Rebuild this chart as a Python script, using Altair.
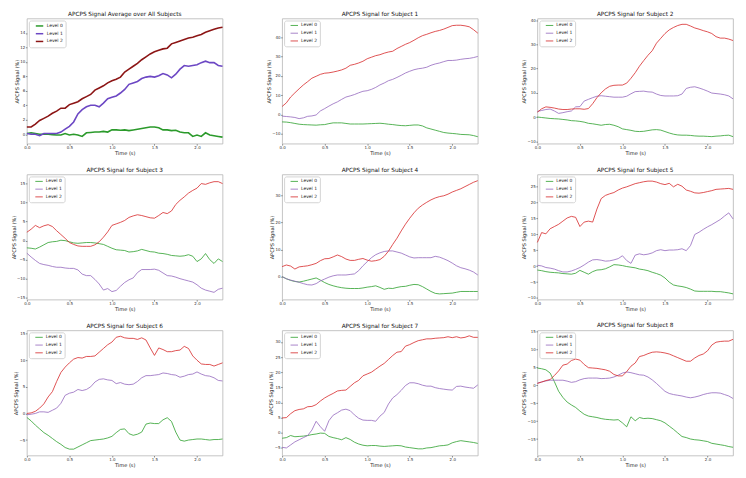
import altair as alt
import pandas as pd

# ---------------- data (0.05 s steps) ----------------
times = [round(0.05 * i, 2) for i in range(47)]
levels = ["Level 0", "Level 1", "Level 2"]
titles = ["APCPS Signal Average over All Subjects"] + [f"APCPS Signal for Subject {i}" for i in range(1, 9)]

avg_l0 = [0.1, 0.2, 0.1, 0.0, 0.0, 0.0, -0.05, -0.1, -0.1, 0.1,
          -0.1, 0.0, -0.1, -0.3, 0.2, 0.25, 0.3, 0.3, 0.4, 0.3,
          0.6, 0.6, 0.55, 0.6, 0.5, 0.6, 0.7, 0.8, 0.9, 1.0,
          1.0, 0.9, 0.6, 0.6, 0.5, 0.55, 0.3, 0.2, 0.2, -0.3,
          -0.1, -0.3, 0.2, -0.1, -0.2, -0.3, -0.4]
avg_l1 = [0.1, 0.0, 0.0, -0.2, 0.1, 0.1, 0.1, 0.1, 0.3, 0.7,
          1.1, 1.7, 2.8, 3.4, 3.8, 4.0, 4.0, 3.8, 4.3, 4.9,
          5.1, 5.3, 5.7, 6.2, 6.9, 7.1, 7.3, 7.7, 7.9, 8.0,
          7.9, 8.1, 8.4, 8.2, 7.8, 8.3, 9.0, 9.5, 9.4, 9.5,
          9.6, 9.9, 10.1, 9.9, 9.9, 9.5, 9.4]
avg_l2 = [1.0, 1.0, 1.4, 1.9, 2.2, 2.5, 2.9, 3.2, 3.6, 3.6,
          4.1, 4.3, 4.5, 4.9, 5.2, 5.5, 6.1, 6.4, 6.7, 7.1,
          7.4, 7.6, 7.9, 8.6, 9.0, 9.4, 9.8, 10.3, 10.7, 11.1,
          11.4, 11.6, 11.8, 11.9, 12.5, 12.7, 12.9, 13.1, 13.3, 13.4,
          13.6, 13.8, 14.1, 14.3, 14.5, 14.7, 14.8]

s1_l0 = [-3.9, -4.0, -4.3, -4.7, -5.1, -5.3, -5.4, -5.5, -5.6, -5.4,
         -5.3, -4.8, -4.4, -4.4, -4.4, -4.7, -5.0, -5.0, -5.0, -5.0,
         -4.9, -4.8, -4.7, -4.6, -4.8, -5.1, -5.3, -5.6, -5.8, -5.9,
         -5.7, -5.5, -5.5, -6.0, -7.0, -7.6, -8.2, -8.8, -9.4, -9.7,
         -9.9, -10.1, -10.4, -10.5, -10.6, -11.0, -11.6]
s1_l1 = [-0.9, -1.1, -1.3, -1.6, -2.2, -1.8, -1.0, -0.8, -0.3, 1.8,
         3.0, 4.3, 5.5, 6.5, 7.8, 9.0, 9.6, 10.3, 11.2, 12.0,
         12.3, 13.0, 14.0, 15.3, 16.3, 17.5, 18.2, 19.2, 20.3, 21.5,
         22.4, 23.2, 23.7, 24.0, 24.5, 25.5, 26.2, 26.7, 27.4, 28.0,
         28.0, 28.2, 28.6, 28.9, 29.1, 29.5, 30.1]
s1_l2 = [4.1, 6.0, 9.0, 11.2, 13.3, 15.3, 17.0, 18.8, 19.8, 20.8,
         21.4, 21.6, 22.0, 22.5, 23.1, 24.0, 25.5, 26.0, 26.7, 27.6,
         28.9, 29.7, 30.5, 31.0, 31.8, 32.4, 32.8, 34.2, 35.3, 36.4,
         37.3, 38.5, 39.8, 40.9, 41.6, 42.4, 43.1, 43.6, 44.3, 45.2,
         46.1, 46.3, 46.3, 46.0, 45.5, 44.0, 42.2]

s2_l0 = [0.0, -0.2, -0.4, -0.6, -0.7, -0.8, -1.0, -1.2, -1.5, -1.6,
         -1.8, -2.1, -2.6, -2.8, -3.1, -3.4, -3.1, -3.0, -3.4, -4.0,
         -4.9, -5.2, -5.5, -5.9, -6.0, -5.9, -5.6, -5.3, -5.2, -5.4,
         -6.0, -6.6, -7.1, -7.4, -7.5, -7.5, -7.6, -7.8, -7.9, -7.9,
         -8.0, -8.1, -7.9, -7.8, -7.6, -7.5, -8.1]
s2_l1 = [2.3, 2.7, 3.1, 3.3, 2.5, 1.5, 1.8, 2.2, 2.5, 4.2,
         4.3, 6.6, 7.3, 8.0, 8.6, 8.8, 8.6, 8.4, 8.2, 8.2,
         8.2, 8.6, 9.6, 10.5, 10.6, 10.7, 10.4, 10.3, 9.5, 8.9,
         8.7, 8.7, 8.7, 8.8, 9.5, 11.8, 12.3, 12.5, 12.0, 11.4,
         10.7, 9.9, 9.7, 9.5, 9.2, 8.7, 7.5]
s2_l2 = [2.0, 3.4, 4.2, 4.0, 3.7, 3.3, 3.1, 3.1, 3.3, 3.4,
         3.4, 3.2, 3.5, 5.5, 8.0, 10.0, 11.6, 12.7, 13.1, 13.2,
         13.2, 14.0, 16.0, 18.3, 21.0, 23.3, 25.5, 27.4, 30.5, 32.5,
         34.5, 36.0, 37.0, 37.8, 38.3, 38.3, 37.6, 36.8, 36.3, 35.7,
         35.2, 34.5, 33.2, 32.6, 32.6, 32.2, 31.6]

s3_l0 = [-1.9, -2.0, -2.2, -1.7, -1.1, -0.5, -0.3, -0.2, 0.1, 0.0,
         -0.3, -0.6, -0.7, -0.6, -0.5, -0.5, -0.6, -0.8, -1.0, -1.5,
         -2.0, -2.4, -2.5, -2.6, -3.0, -2.9, -2.7, -2.3, -2.6, -2.9,
         -3.0, -3.3, -3.4, -3.6, -3.9, -4.0, -4.1, -4.0, -3.7, -4.1,
         -5.5, -4.8, -3.4, -5.0, -6.0, -4.8, -5.5]
s3_l1 = [-3.3, -4.3, -5.2, -6.0, -6.3, -6.5, -6.8, -7.0, -7.0, -7.2,
         -7.3, -7.3, -7.7, -8.8, -9.2, -9.2, -10.2, -11.4, -13.0, -12.6,
         -13.4, -13.1, -12.0, -11.0, -10.3, -9.8, -8.4, -7.6, -7.6, -7.6,
         -7.5, -7.8, -8.5, -9.2, -9.3, -9.6, -10.0, -10.3, -10.6, -10.9,
         -11.6, -12.5, -13.0, -13.3, -13.6, -12.8, -12.5]
s3_l2 = [2.2, 3.0, 4.0, 3.4, 3.9, 4.2, 3.7, 2.6, 1.6, 0.6,
         -0.5, -1.0, -1.4, -1.5, -1.5, -1.5, -1.1, -0.3, 0.9, 2.3,
         4.0, 4.4, 4.8, 5.3, 6.1, 6.5, 6.8, 6.6, 6.3, 6.0,
         5.9, 6.6, 7.4, 7.1, 7.8, 9.5, 10.6, 11.5, 12.5, 13.2,
         13.8, 15.0, 14.8, 15.2, 15.5, 15.5, 15.0]

s4_l0 = [0.0, -0.8, -1.4, -1.8, -2.0, -1.7, -1.3, -0.9, -0.5, -1.3,
         -2.2, -2.9, -3.4, -3.8, -4.1, -4.3, -4.4, -4.4, -4.4, -4.2,
         -3.9, -3.7, -3.4, -4.0, -4.7, -4.3, -4.4, -4.0, -3.7, -3.6,
         -3.2, -2.9, -3.0, -3.7, -4.6, -5.5, -6.2, -6.4, -6.3, -6.2,
         -6.1, -5.8, -5.5, -5.5, -5.5, -5.5, -5.5]
s4_l1 = [0.0, -0.8, -1.3, -1.7, -2.1, -2.6, -3.0, -3.1, -2.6, -1.6,
         -0.9, -0.2, 0.3, 0.6, 0.6, 0.6, 0.8, 1.0, 2.2, 4.0,
         5.5, 7.0, 8.1, 8.8, 9.3, 9.5, 9.5, 9.1, 8.7, 8.0,
         7.3, 6.9, 7.0, 7.0, 7.0, 7.0, 7.5, 7.2, 6.6, 5.9,
         5.0, 4.0, 3.3, 2.9, 2.4, 1.7, 0.6]
s4_l2 = [3.7, 4.3, 3.9, 2.8, 3.6, 3.8, 4.0, 4.4, 4.9, 5.9,
         6.6, 6.7, 7.3, 8.0, 7.4, 6.5, 6.0, 6.0, 6.4, 6.7,
         6.1, 5.7, 5.9, 6.3, 7.5, 9.4, 11.9, 14.2, 16.9, 19.4,
         21.6, 23.6, 25.3, 26.5, 27.5, 28.4, 29.1, 29.6, 29.9, 30.5,
         31.3, 31.9, 32.5, 33.3, 34.1, 34.9, 35.5]

s5_l0 = [-1.2, -1.4, -1.7, -1.9, -2.0, -2.1, -2.3, -2.4, -2.5, -2.2,
         -1.3, -1.9, -2.5, -1.7, -1.2, -1.1, -0.8, -0.2, 0.5, 0.4,
         0.2, -0.1, -0.3, -0.5, -0.9, -1.1, -1.4, -1.9, -2.3, -2.8,
         -3.7, -5.0, -5.9, -6.2, -6.4, -6.7, -7.2, -7.8, -7.9, -7.9,
         -7.9, -7.9, -8.0, -8.0, -8.2, -8.4, -8.7]
s5_l1 = [0.3, 0.1, -0.4, -0.6, -0.9, -1.4, -1.8, -1.8, -1.5, -1.0,
         -0.4, 0.4, 1.3, 2.0, 2.1, 1.9, 1.6, 1.7, 2.0, 2.4,
         3.3, 1.8, 0.9, 3.5, 3.9, 3.6, 3.8, 4.2, 4.9, 5.2,
         4.9, 5.1, 5.1, 5.2, 5.5, 4.9, 6.5, 10.0, 10.7, 11.6,
         12.4, 13.1, 13.9, 14.7, 15.8, 16.8, 14.9]
s5_l2 = [7.5, 10.6, 10.2, 11.8, 12.5, 13.2, 14.2, 15.2, 15.7, 15.4,
         12.5, 13.9, 14.2, 13.9, 18.0, 21.3, 22.3, 22.8, 23.2, 24.0,
         24.6, 25.0, 25.5, 26.0, 26.3, 26.6, 26.8, 26.8, 26.5, 26.0,
         25.7, 26.1, 25.0, 25.8, 25.2, 24.0, 23.6, 23.1, 23.0, 23.2,
         23.5, 23.8, 24.2, 24.3, 24.4, 24.5, 24.2]

s6_l0 = [-0.75, -1.4, -2.2, -2.9, -3.6, -4.1, -4.7, -5.3, -5.8, -6.4,
         -6.7, -6.7, -6.3, -5.9, -5.5, -5.1, -5.0, -4.9, -4.8, -4.6,
         -4.3, -3.6, -3.0, -2.9, -3.8, -4.1, -3.9, -3.5, -2.0, -1.8,
         -1.9, -1.9, -1.2, -0.8, -1.5, -3.5, -5.0, -5.2, -5.0, -4.9,
         -4.8, -4.8, -4.9, -5.0, -4.9, -4.9, -4.8]
s6_l1 = [-0.25, -0.15, 0.0, 0.3, 0.3, 0.2, 0.6, 1.0, 1.9, 3.4,
         3.8, 4.0, 4.5, 4.3, 4.5, 5.0, 5.9, 6.4, 6.5, 6.3,
         6.2, 5.6, 5.8, 5.5, 5.4, 5.5, 6.0, 6.7, 7.1, 7.1,
         7.2, 7.3, 7.6, 7.5, 7.3, 7.2, 6.8, 7.0, 7.3, 7.4,
         7.8, 7.4, 7.1, 7.0, 6.7, 6.2, 6.1]
s6_l2 = [0.0, 0.1, 0.4, 1.0, 1.8, 3.1, 4.1, 6.0, 7.7, 8.7,
         9.5, 10.2, 10.5, 10.4, 10.7, 10.7, 10.8, 11.5, 12.2, 12.9,
         13.4, 14.3, 14.5, 14.2, 14.1, 14.1, 13.9, 14.2, 13.8, 12.3,
         10.9, 12.3, 12.0, 11.6, 11.6, 11.8, 11.9, 12.6, 12.2, 10.8,
         10.0, 9.3, 9.2, 9.2, 8.9, 9.2, 9.5]

s7_l0 = [-1.8, -1.6, -0.9, -1.3, -1.2, -1.1, -0.9, -0.6, -0.4, -0.1,
         -0.2, -1.2, -1.6, -1.9, -2.3, -1.6, -2.2, -3.1, -3.7, -4.1,
         -4.3, -4.2, -4.2, -4.4, -4.5, -4.4, -4.3, -4.2, -4.3, -4.7,
         -4.9, -5.1, -5.3, -5.3, -5.0, -4.9, -4.6, -4.3, -4.2, -4.0,
         -3.3, -2.9, -2.6, -2.8, -3.0, -3.2, -3.5]
s7_l1 = [-4.8, -5.0, -4.0, -3.0, -2.3, -1.6, -0.9, 0.9, 3.8, 2.0,
         0.5, 4.0, 5.8, 6.6, 7.5, 7.8, 7.3, 5.9, 4.8, 4.2,
         4.1, 4.1, 3.8, 5.5, 6.7, 9.5, 11.5, 12.6, 14.0, 15.6,
         16.5, 16.5, 16.2, 15.7, 15.4, 15.4, 14.9, 14.6, 14.4, 14.2,
         14.1, 15.3, 15.4, 15.1, 14.9, 14.7, 15.8]
s7_l2 = [4.9, 5.0, 6.3, 7.3, 7.7, 7.9, 8.6, 8.7, 9.3, 10.5,
         11.5, 12.3, 13.0, 13.8, 14.0, 14.1, 15.3, 16.5, 17.3, 18.8,
         19.4, 20.0, 21.0, 22.0, 22.9, 24.2, 25.5, 26.6, 26.8, 28.6,
         29.1, 29.8, 30.4, 30.7, 31.0, 31.0, 31.2, 31.3, 31.4, 31.7,
         31.4, 31.7, 31.3, 31.5, 32.0, 31.5, 31.5]

s8_l0 = [4.8, 4.6, 4.3, 3.4, 1.0, -1.7, -3.4, -4.7, -5.5, -6.2,
         -7.2, -8.1, -8.6, -8.8, -9.0, -9.3, -9.5, -9.6, -9.7, -9.6,
         -10.5, -11.6, -8.8, -9.9, -9.0, -9.3, -9.2, -9.3, -9.6, -9.9,
         -10.5, -11.4, -12.3, -13.3, -14.3, -14.6, -15.0, -15.2, -15.3, -15.5,
         -15.7, -16.2, -16.4, -16.6, -16.8, -17.1, -17.3]
s8_l1 = [0.6, 0.9, 1.2, 1.4, 1.4, 1.4, 1.4, 1.15, 0.8, 1.0,
         1.5, 1.85, 2.0, 2.0, 2.0, 1.85, 1.9, 2.0, 2.3, 2.8,
         3.4, 3.7, 3.5, 3.2, 2.9, 2.8, 2.3, 1.5, 0.5, -0.6,
         -1.7, -2.3, -2.6, -2.8, -3.0, -3.3, -3.5, -3.3, -3.0, -2.6,
         -2.3, -2.1, -2.1, -2.2, -2.6, -3.0, -3.7]
s8_l2 = [0.5, 0.9, 1.3, 1.6, 2.7, 4.0, 5.6, 5.9, 6.9, 7.3,
         7.0, 5.8, 4.9, 4.8, 4.7, 4.5, 4.3, 3.9, 3.0, 2.6,
         2.6, 3.8, 5.3, 6.2, 8.0, 8.3, 8.8, 9.2, 9.3, 9.2,
         9.0, 8.7, 8.2, 7.7, 7.2, 6.7, 6.7, 7.6, 8.3, 8.7,
         9.6, 11.2, 12.0, 12.2, 12.3, 12.3, 12.8]

series = [
    [avg_l0, avg_l1, avg_l2],
    [s1_l0, s1_l1, s1_l2],
    [s2_l0, s2_l1, s2_l2],
    [s3_l0, s3_l1, s3_l2],
    [s4_l0, s4_l1, s4_l2],
    [s5_l0, s5_l1, s5_l2],
    [s6_l0, s6_l1, s6_l2],
    [s7_l0, s7_l1, s7_l2],
    [s8_l0, s8_l1, s8_l2],
]

y_domains = [[-1.3, 16.0], [-15.2, 49.8], [-11.0, 40.7], [-15.5, 17.4], [-8.5, 37.8],
             [-10.5, 28.9], [-7.9, 15.6], [-7.5, 33.8], [-19.6, 15.3]]
y_ticks = [[0, 2, 4, 6, 8, 10, 12, 14], [-10, 0, 10, 20, 30, 40], [-10, 0, 10, 20, 30, 40],
           [-15, -10, -5, 0, 5, 10, 15], [0, 10, 20, 30], [-10, -5, 0, 5, 10, 15, 20, 25],
           [-5, 0, 5, 10, 15], [-5, 0, 5, 10, 15, 20, 25, 30], [-15, -10, -5, 0, 5, 10, 15]]
x_ticks = [0.0, 0.5, 1.0, 1.5, 2.0]

avg_colors = ["#2b9a2b", "#6c47c4", "#8c1515"]
subj_colors = ["#2ca02c", "#9467bd", "#d62728"]

rows = []
for p, trio in enumerate(series):
    for lev, vals in zip(levels, trio):
        assert len(vals) == len(times), (p, lev, len(vals))
        for t, v in zip(times, vals):
            rows.append({"panel": p, "level": lev, "time": t, "signal": v})
df = pd.DataFrame(rows)

FONT = "DejaVu Sans"
W, H = 197, 126


def panel(p):
    d = df[df["panel"] == p]
    first = p == 0
    colors = avg_colors if first else subj_colors
    legend = alt.Legend(
        title=None, orient="top-left", offset=1.5, padding=2.5,
        symbolType="M-2,0L2,0", symbolSize=14,
        symbolStrokeWidth=1.5 if first else 1.0,
        symbolOffset=5.25, labelOffset=4.25,
        labelFontSize=4.5, labelFont=FONT, labelColor="#222",
        rowPadding=1.8, strokeColor="#d4d4d4", fillColor="white",
        cornerRadius=2,
    )
    return alt.Chart(
        d,
        title=alt.TitleParams(titles[p], fontSize=5.8, font=FONT, fontWeight="normal",
                              color="#111", offset=1.5, anchor="middle"),
    ).mark_line(
        strokeWidth=1.6 if first else 1.0, opacity=1.0 if first else 0.8
    ).encode(
        x=alt.X("time:Q", scale=alt.Scale(domain=[0, 2.3], nice=False, zero=False),
                axis=alt.Axis(values=x_ticks, format=".1f", title="Time (s)",
                              titlePadding=1)),
        y=alt.Y("signal:Q", scale=alt.Scale(domain=y_domains[p], nice=False, zero=False),
                axis=alt.Axis(values=y_ticks[p], title="APCPS Signal (%)", titlePadding=0.5)),
        color=alt.Color("level:N", scale=alt.Scale(domain=levels, range=colors), legend=legend),
        detail="level:N",
    ).properties(width=W, height=H)


chart = alt.concat(
    *[panel(p) for p in range(9)],
    columns=3,
    spacing={"row": 31, "column": 60},
    bounds="flush",
).resolve_scale(
    color="independent", x="independent", y="independent"
).resolve_legend(
    color="independent"
).properties(
    padding={"left": 2, "top": 1, "right": 2, "bottom": 0}
).configure_view(
    stroke="#b5b5b5", strokeWidth=0.8
).configure_axis(
    domain=False, grid=False, ticks=True, tickColor="#444", tickSize=1.5, tickWidth=0.6,
    labelFont=FONT, labelFontSize=4, labelColor="#333", labelPadding=0.5, labelFlush=False,
    titleFont=FONT, titleFontSize=5.1, titleFontWeight="normal", titleColor="#222",
)

chart.save("out.html", embed_options={"renderer": "svg", "actions": False})
